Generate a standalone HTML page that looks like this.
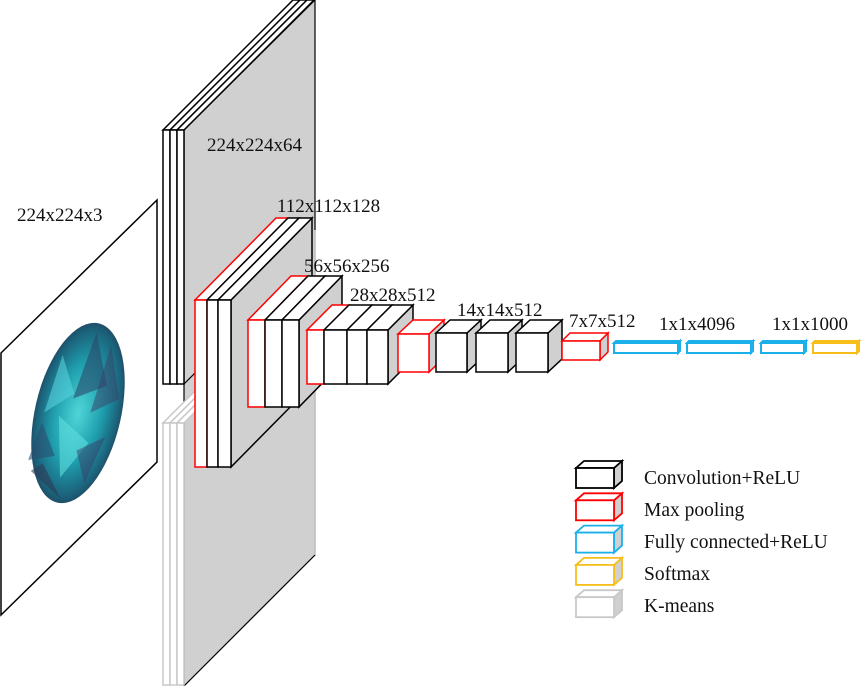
<!DOCTYPE html>
<html><head><meta charset="utf-8">
<style>
html,body{margin:0;padding:0;background:#fff;}
svg{display:block;}
text{font-family:"Liberation Serif",serif;fill:#111;}
</style></head>
<body>
<svg id="s" width="866" height="686" viewBox="0 0 866 686" xmlns="http://www.w3.org/2000/svg">
<defs>
<radialGradient id="gem" cx="50%" cy="50%" r="55%">
<stop offset="0" stop-color="#4fd6d8"/>
<stop offset="0.5" stop-color="#1f9fae"/>
<stop offset="0.85" stop-color="#1b5f78"/>
<stop offset="1" stop-color="#2a3550"/>
</radialGradient>
</defs>
<polygon points="1,353 157,200 157,462 1,615" fill="#fff" stroke="#000" stroke-width="1.5"/>
<g transform="rotate(13 78 413)">
<ellipse cx="78" cy="413" rx="43" ry="92" fill="url(#gem)"/>
<polygon points="78,330 100,380 70,400" fill="#2a4a6a" opacity="0.6"/>
<polygon points="60,420 95,440 75,480" fill="#5fe0e0" opacity="0.6"/>
<polygon points="50,360 70,395 45,420" fill="#58d0dc" opacity="0.6"/>
<polygon points="85,450 110,430 100,480" fill="#36406a" opacity="0.5"/>
<polygon points="55,470 80,500 45,480" fill="#2d3a58" opacity="0.6"/>
<polygon points="95,340 115,390 90,410" fill="#3a3f66" opacity="0.5"/>
<polygon points="45,430 65,460 40,470" fill="#2a4f70" opacity="0.6"/>
</g>
<polygon points="184,130 315,0 315,555 184,686" fill="#d0d0d0" stroke="#000" stroke-width="1.2"/>
<line x1="315" y1="230" x2="315" y2="555" stroke="#ccc" stroke-width="1.5"/>
<g id="g"></g>
<text x="17" y="221" font-size="19">224x224x3</text>
<text x="207" y="151" font-size="19">224x224x64</text>
<text x="277" y="212" font-size="19">112x112x128</text>
<text x="304" y="272" font-size="19">56x56x256</text>
<text x="350" y="301" font-size="19">28x28x512</text>
<text x="457" y="316" font-size="19">14x14x512</text>
<text x="569" y="327" font-size="19">7x7x512</text>
<text x="659" y="330" font-size="19">1x1x4096</text>
<text x="772" y="330" font-size="19">1x1x1000</text>
<text x="644" y="484" font-size="19.5">Convolution+ReLU</text>
<text x="644" y="516" font-size="19.5">Max pooling</text>
<text x="644" y="548" font-size="19.5">Fully connected+ReLU</text>
<text x="644" y="580" font-size="19.5">Softmax</text>
<text x="644" y="612" font-size="19.5">K-means</text>
</svg>
<script>
var g=document.getElementById('g');var NS='http://www.w3.org/2000/svg';
function el(t,a){var e=document.createElementNS(NS,t);for(var k in a)e.setAttribute(k,a[k]);g.appendChild(e);return e;}
function P(pts){return pts.map(function(p){return p[0]+','+p[1]}).join(' ');}
function block(xs,cols,y1,y2,dx,dy,sw,side,sideStroke){
  var n=xs.length-1, xl=xs[n];
  if(side){el('polygon',{points:P([[xl,y1],[xl+dx,y1+dy],[xl+dx,y2+dy],[xl,y2]]),fill:'#d0d0d0',stroke:sideStroke||cols[n-1],'stroke-width':sw});}
  for(var i=0;i<n;i++){
    el('polygon',{points:P([[xs[i],y1],[xs[i]+dx,y1+dy],[xs[i+1]+dx,y1+dy],[xs[i+1],y1]]),fill:'#fff',stroke:cols[i],'stroke-width':sw});
  }
  for(var i=0;i<n;i++){
    el('rect',{x:xs[i],y:y1,width:xs[i+1]-xs[i],height:y2-y1,fill:'#fff',stroke:cols[i],'stroke-width':sw});
  }
}
var K='#000',R='#f00',B='#1ab0ea',Y='#f7be1b',L='#c8c8c8';
block([163,170,177,184],[L,L,L],423,685,130,-130,1.5,false);
block([163,170,177,184],[K,K,K],130,384,130,-130,1.5,false);
el('line',{x1:184,y1:384,x2:196,y2:372,stroke:K,'stroke-width':1.2});
block([195,207,218,231],[R,K,K],300,467,81,-82,1.5,true,K);
block([248,265,282,299],[R,K,K],320,407,43,-44,1.5,true,K);
block([307,324,347,367,388],[R,K,K,K],330,384,25,-25,1.5,true,K);
block([398,429],[R],334,372,15,-14,1.5,true,R);
block([436,467],[K],333,372,14,-13,1.5,true,K);
block([476,508],[K],333,372,14,-13,1.5,true,K);
block([516,548],[K],333,372,14,-13,1.5,true,K);
block([562,600],[R],341,360,8,-8,1.5,true,R);
block([614,678],[B],343,353,2,-2,2,true,B);
block([687,751],[B],343,353,2,-2,2,true,B);
block([761,804],[B],343,353,2,-2,2,true,B);
block([813,857],[Y],343,353,2,-2,2,true,Y);
var lc=[K,R,B,Y,L];
for(var i=0;i<5;i++){var y=468+i*32.3;block([576,614],[lc[i]],y,y+20,8,-7,1.8,true,lc[i]);}
</script>
</body></html>
